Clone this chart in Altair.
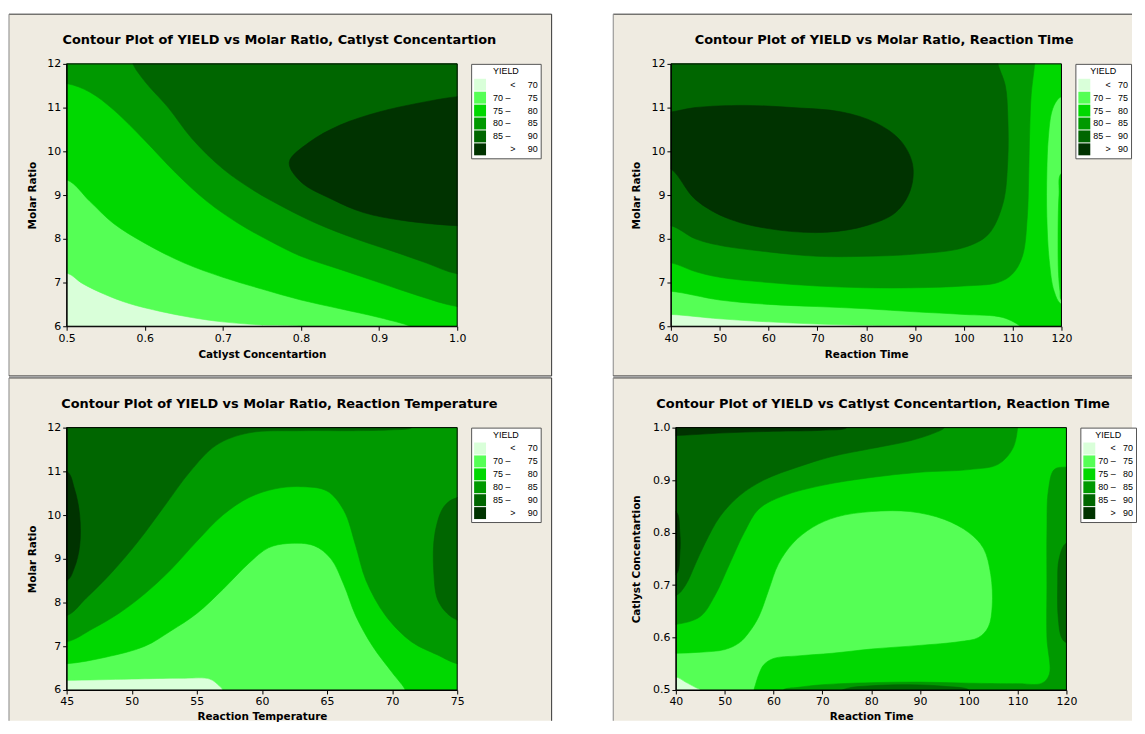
import json
import altair as alt
import pandas as pd

BANDS = ["< 70", "70 – 75", "75 – 80", "80 – 85", "85 – 90", "> 90"]
COLORS = ["#d9ffd9", "#55ff55", "#00d800", "#009900", "#006600", "#003300"]
BEIGE = "#efebe1"

# ---------------- Panel 1: Molar Ratio vs Catlyst Concentartion ----------------
P1_TITLE = "Contour Plot of YIELD vs Molar Ratio, Catlyst Concentartion"
P1_XTITLE = "Catlyst Concentartion"
P1_YTITLE = "Molar Ratio"
P1_XDOM = [0.5, 1.0]
P1_YDOM = [6, 12]
P1_XTICKS = [0.5, 0.6, 0.7, 0.8, 0.9, 1.0]
P1_YTICKS = [6, 7, 8, 9, 10, 11, 12]
P1_GE70 = [(0.45, 7.22), (0.5, 7.22), (0.52, 6.98), (0.55, 6.72), (0.58, 6.52), (0.62, 6.34),
           (0.66, 6.2), (0.7, 6.1), (0.75, 6.03), (0.8, 6.0), (0.82, 5.9), (1.05, 5.9),
           (1.05, 12.1), (0.45, 12.1)]
P1_GE75 = [(0.45, 9.35), (0.5, 9.35), (0.53, 8.85), (0.56, 8.35), (0.6, 7.9), (0.65, 7.45),
           (0.7, 7.12), (0.75, 6.85), (0.8, 6.6), (0.85, 6.4), (0.9, 6.2), (0.94, 6.0),
           (0.95, 5.9), (1.05, 5.9), (1.05, 12.1), (0.45, 12.1)]
P1_GE80 = [(0.45, 11.55), (0.5, 11.55), (0.53, 11.35), (0.56, 10.95), (0.6, 10.25), (0.64, 9.5),
           (0.68, 8.85), (0.72, 8.35), (0.76, 7.95), (0.8, 7.6), (0.85, 7.3), (0.9, 7.0),
           (0.95, 6.7), (1.0, 6.45), (1.05, 6.4), (1.05, 12.1), (0.45, 12.1)]
P1_GE85 = [(0.585, 12.1), (0.585, 12.0), (0.6, 11.6), (0.63, 11.0), (0.66, 10.3), (0.7, 9.6),
           (0.74, 9.1), (0.78, 8.7), (0.82, 8.35), (0.87, 8.0), (0.92, 7.7), (0.96, 7.45),
           (1.0, 7.2), (1.05, 7.2), (1.05, 12.1)]
P1_GE90 = [(1.05, 11.3), (1.0, 11.25), (0.95, 11.1), (0.9, 10.9), (0.85, 10.6), (0.81, 10.2),
           (0.785, 9.75), (0.8, 9.3), (0.84, 8.9), (0.88, 8.6), (0.93, 8.42), (1.0, 8.3),
           (1.05, 8.3)]

# ---------------- Panel 2: Molar Ratio vs Reaction Time ----------------
P2_TITLE = "Contour Plot of YIELD vs Molar Ratio, Reaction Time"
P2_XTITLE = "Reaction Time"
P2_YTITLE = "Molar Ratio"
P2_XDOM = [40, 120]
P2_YDOM = [6, 12]
P2_XTICKS = [40, 50, 60, 70, 80, 90, 100, 110, 120]
P2_YTICKS = [6, 7, 8, 9, 10, 11, 12]
P2_GE70 = [(35, 6.27), (40, 6.27), (50, 6.17), (60, 6.1), (70, 6.05), (80, 6.02), (90, 6.0),
           (95, 5.9), (125, 5.9), (125, 12.1), (35, 12.1)]
P2_GE75_A = [(35, 6.8), (40, 6.8), (50, 6.6), (60, 6.5), (70, 6.45), (80, 6.4), (90, 6.33),
             (100, 6.27), (108, 6.2), (111.5, 6.0), (112, 5.9), (125, 5.9), (125, 6.45),
             (120, 6.5), (118.5, 6.8), (117.5, 7.5), (117, 8.5), (117, 9.5), (117.3, 10.3),
             (118, 10.9), (119, 11.15), (120, 11.25), (125, 11.3), (125, 12.1), (35, 12.1)]
P2_GE75_B = [(125, 9.5), (120, 9.5), (119.5, 9.0), (119.3, 8.0), (119.4, 7.2), (119.7, 6.8),
             (120, 6.6), (125, 6.6)]
P2_GE80 = [(35, 7.45), (40, 7.45), (45, 7.25), (50, 7.12), (60, 7.0), (70, 6.92), (80, 6.88),
           (90, 6.88), (100, 6.92), (107, 7.0), (110, 7.2), (112, 7.6), (113, 8.5),
           (113.3, 9.5), (113.5, 10.5), (113.8, 11.3), (114.5, 12.0), (114.5, 12.1), (35, 12.1)]
P2_GE85 = [(35, 8.3), (40, 8.3), (45, 8.0), (50, 7.85), (60, 7.7), (70, 7.6), (80, 7.6),
           (90, 7.65), (100, 7.8), (105, 8.1), (108, 8.8), (109, 9.8), (109, 10.8),
           (108.5, 11.5), (107, 12.0), (107, 12.1), (35, 12.1)]
P2_GE90 = [(35, 10.85), (40, 10.9), (45, 11.0), (55, 11.05), (65, 11.0), (75, 10.9),
           (82, 10.65), (87, 10.25), (89.5, 9.7), (89, 9.1), (86, 8.6), (80, 8.3), (72, 8.15),
           (62, 8.2), (52, 8.45), (45, 8.9), (40, 9.6), (35, 9.8)]

# ---------------- Panel 3: Molar Ratio vs Reaction Temperature ----------------
P3_TITLE = "Contour Plot of YIELD vs Molar Ratio, Reaction Temperature"
P3_XTITLE = "Reaction Temperature"
P3_YTITLE = "Molar Ratio"
P3_XDOM = [45, 75]
P3_YDOM = [6, 12]
P3_XTICKS = [45, 50, 55, 60, 65, 70, 75]
P3_YTICKS = [6, 7, 8, 9, 10, 11, 12]
P3_GE70 = [(42, 6.22), (45, 6.22), (50, 6.25), (54, 6.27), (56, 6.25), (56.7, 6.1), (57, 6.0),
           (57, 5.9), (78, 5.9), (78, 12.1), (42, 12.1)]
P3_GE75 = [(42, 6.6), (45, 6.6), (48, 6.75), (51, 7.0), (53, 7.35), (55, 7.75), (57, 8.3),
           (59, 8.9), (60.5, 9.25), (62, 9.35), (64, 9.3), (65.3, 9.0), (66.3, 8.4),
           (67.2, 7.7), (68.5, 7.0), (70, 6.4), (71, 6.0), (71, 5.9), (78, 5.9), (78, 12.1),
           (42, 12.1)]
P3_GE80 = [(42, 7.1), (45, 7.1), (47, 7.4), (49, 7.75), (51, 8.2), (53, 8.75), (55, 9.4),
           (57, 10.0), (59, 10.4), (61, 10.6), (63, 10.65), (65, 10.55), (66.3, 10.1),
           (67.2, 9.3), (68, 8.5), (69.5, 7.7), (71.5, 7.1), (73.5, 6.8), (75, 6.6), (78, 6.5),
           (78, 12.1), (42, 12.1)]
P3_GE85_A = [(42, 7.7), (45, 7.7), (46.5, 8.1), (48.5, 8.7), (50.5, 9.4), (52.5, 10.2),
             (54.5, 11.0), (56.5, 11.6), (59, 11.88), (63, 11.93), (67, 11.93), (70, 11.95),
             (71.5, 12.0), (71.5, 12.1), (42, 12.1)]
P3_GE85_B = [(78, 10.4), (75, 10.4), (74, 10.2), (73.3, 9.6), (73.2, 8.7), (73.6, 8.0),
             (75, 7.6), (78, 7.6)]
P3_GE90 = [(42, 11.0), (45, 11.0), (45.6, 10.6), (46, 10.0), (46, 9.3), (45.6, 8.8), (45, 8.5),
           (42, 8.5)]

# ---------------- Panel 4: Catlyst Concentartion vs Reaction Time ----------------
P4_TITLE = "Contour Plot of YIELD vs Catlyst Concentartion, Reaction Time"
P4_XTITLE = "Reaction Time"
P4_YTITLE = "Catlyst Concentartion"
P4_XDOM = [40, 120]
P4_YDOM = [0.5, 1.0]
P4_XTICKS = [40, 50, 60, 70, 80, 90, 100, 110, 120]
P4_YTICKS = [0.5, 0.6, 0.7, 0.8, 0.9, 1.0]
P4_GE70 = [(35, 0.525), (40, 0.525), (42, 0.515), (44, 0.505), (45, 0.5), (45, 0.49),
           (125, 0.49), (125, 1.01), (35, 1.01)]
P4_GE75 = [(35, 0.57), (40, 0.57), (45, 0.572), (50, 0.577), (53, 0.59), (55, 0.61),
           (57, 0.64), (59, 0.69), (61, 0.74), (64, 0.78), (68, 0.81), (73, 0.83), (80, 0.84),
           (88, 0.84), (95, 0.825), (100, 0.8), (103, 0.77), (104.5, 0.72), (104.8, 0.66),
           (104, 0.62), (102, 0.6), (98, 0.592), (90, 0.585), (80, 0.578), (72, 0.57),
           (65, 0.565), (60, 0.56), (58, 0.548), (57, 0.53), (56.3, 0.51), (56, 0.5),
           (56, 0.49), (125, 0.49), (125, 1.01), (35, 1.01)]
P4_GE80_A = [(35, 0.625), (40, 0.625), (45, 0.64), (48, 0.68), (51, 0.74), (54, 0.8),
             (57, 0.845), (62, 0.87), (70, 0.89), (80, 0.905), (90, 0.915), (100, 0.92),
             (106, 0.93), (109, 0.96), (110, 1.0), (110, 1.01), (35, 1.01)]
P4_GE80_B = [(125, 0.925), (120, 0.925), (117.5, 0.92), (116.3, 0.88), (116, 0.8), (116, 0.7),
             (116, 0.6), (116.5, 0.53), (115, 0.513), (110, 0.512), (100, 0.513), (90, 0.515),
             (80, 0.514), (70, 0.51), (65, 0.505), (62, 0.5), (62, 0.49), (125, 0.49)]
P4_GE85_A = [(35, 0.68), (40, 0.68), (42, 0.7), (44, 0.74), (46, 0.78), (49, 0.83), (53, 0.87),
             (58, 0.9), (65, 0.925), (72, 0.945), (80, 0.96), (88, 0.975), (93, 0.99),
             (95, 1.0), (95, 1.01), (35, 1.01)]
P4_GE85_B = [(125, 0.78), (120, 0.78), (118.5, 0.75), (118.2, 0.7), (118.3, 0.64), (119, 0.6),
             (120, 0.59), (125, 0.59)]
P4_GE85_C = [(72, 0.49), (75, 0.503), (80, 0.508), (88, 0.51), (95, 0.507), (100, 0.5),
             (100, 0.49)]
P4_GE90_A = [(35, 1.01), (35, 0.985), (40, 0.985), (50, 0.99), (60, 0.993), (70, 0.995),
             (75, 1.0), (75, 1.01)]
P4_GE90_B = [(35, 0.84), (40, 0.84), (40.8, 0.8), (40.8, 0.76), (40, 0.72), (35, 0.72)]

W, H = 393, 264
NB = "\u00a0"


def level_df(polys):
    rows = []
    for pid, poly in enumerate(polys):
        for i, (x, y) in enumerate(poly):
            rows.append({"pid": pid, "i": i, "x": x, "y": y})
    return pd.DataFrame(rows)


def label_expr(gap_mid, gap_lt):
    parts = []
    for b in BANDS:
        if b[0] in "<>":
            disp = b[0] + NB * gap_lt + b[2:]
        else:
            a, c = b.split(" – ")
            disp = a + NB + "–" + NB * gap_mid + c
        parts.append((b, disp))
    expr = ""
    for b, d in parts[:-1]:
        expr += "datum.label === %s ? %s : " % (json.dumps(b, ensure_ascii=False),
                                                json.dumps(d, ensure_ascii=False))
    expr += json.dumps(parts[-1][1], ensure_ascii=False)
    return expr


def axis(title, values, fmt, pad):
    return alt.Axis(title=title, values=values, format=fmt, grid=False, zindex=1, tickSize=4,
                    labelPadding=2, titlePadding=pad, labelFontSize=11, labelFlush=False,
                    titleFontSize=10.5, titleFontWeight="bold", domainColor="black",
                    tickColor="black", labelColor="black", titleColor="black")


def panel(title, xtitle, ytitle, xdom, ydom, xticks, yticks, xfmt, yfmt, levels,
          frame, borders, title_dx, xpad, ypad, leg):
    fx1, fx2, fy1, fy2 = frame
    X = alt.X("x:Q", scale=alt.Scale(domain=xdom, nice=False, zero=False),
              axis=axis(xtitle, xticks, xfmt, xpad))
    Y = alt.Y("y:Q", scale=alt.Scale(domain=ydom, nice=False, zero=False),
              axis=axis(ytitle, yticks, yfmt, ypad))
    one = pd.DataFrame({"k": [0]})
    layers = [alt.Chart(one).mark_rect(fill=BEIGE, strokeWidth=0).encode(
        x=alt.value(fx1), x2=alt.value(fx2), y=alt.value(fy1), y2=alt.value(fy2))]
    for side, color in borders:
        if side == "top":
            enc = dict(x=alt.value(fx1), x2=alt.value(fx2), y=alt.value(fy1))
        elif side == "bottom":
            enc = dict(x=alt.value(fx1), x2=alt.value(fx2), y=alt.value(fy2))
        elif side == "left":
            enc = dict(x=alt.value(fx1), y=alt.value(fy1), y2=alt.value(fy2))
        else:
            enc = dict(x=alt.value(fx2), y=alt.value(fy1), y2=alt.value(fy2))
        layers.append(alt.Chart(one).mark_rule(color=color, strokeWidth=1).encode(**enc))
    layers.append(alt.Chart(one).mark_text(
        text=title, fontSize=13, fontWeight="bold", color="black", align="center",
        baseline="middle").encode(x=alt.value(W / 2 + title_dx), y=alt.value(-23.5)))
    base = [[(xdom[0], ydom[0]), (xdom[1], ydom[0]), (xdom[1], ydom[1]), (xdom[0], ydom[1])]]
    all_levels = [base] + levels
    for k, polys in enumerate(all_levels):
        layers.append(
            alt.Chart(level_df(polys)).mark_line(
                fill=COLORS[k], stroke=COLORS[k], strokeWidth=0.6, clip=True,
                interpolate="catmull-rom" if k > 0 else "linear"
            ).encode(x=X, y=Y, order="i:Q", detail="pid:N")
        )
    border_df = pd.DataFrame({"x": [xdom[0]], "x2": [xdom[1]], "y": [ydom[0]], "y2": [ydom[1]]})
    layers.append(alt.Chart(border_df).mark_rect(fillOpacity=0, stroke="black", strokeWidth=1)
                  .encode(x=X, x2="x2:Q", y=Y, y2="y2:Q"))
    label_offset, gap_mid, gap_lt = leg
    legend = alt.Legend(title="YIELD", orient="none", legendX=W + 14, legendY=0,
                        titleFont="Liberation Sans", titleFontSize=9,
                        titleFontWeight="normal", titleAnchor="middle", titleColor="black",
                        titlePadding=3, labelFont="Liberation Sans", labelFontSize=9,
                        labelColor="black", labelAlign="right", labelOffset=label_offset,
                        labelExpr=label_expr(gap_mid, gap_lt),
                        symbolType="square", symbolSize=144, symbolStrokeWidth=0,
                        symbolOpacity=1, fillColor="white", strokeColor="#555",
                        padding=3, rowPadding=1)
    layers.append(alt.Chart(pd.DataFrame({"band": BANDS})).mark_square(opacity=0).encode(
        fill=alt.Fill("band:N", scale=alt.Scale(domain=BANDS, range=COLORS), legend=legend)))
    return alt.layer(*layers).properties(width=W, height=H)


LEG_WIDE = (52, 7, 5)
LEG_NARROW = (38, 3, 3)

p1 = panel(P1_TITLE, P1_XTITLE, P1_YTITLE, P1_XDOM, P1_YDOM, P1_XTICKS, P1_YTICKS, ".1f", "d",
           [[P1_GE70], [P1_GE75], [P1_GE80], [P1_GE85], [P1_GE90]],
           (-58, 488, -50, 314),
           [("top", "#333"), ("left", "#888"), ("right", "#333"), ("bottom", "#333")],
           17.5, 6.5, 9, LEG_WIDE)
p2 = panel(P2_TITLE, P2_XTITLE, P2_YTITLE, P2_XDOM, P2_YDOM, P2_XTICKS, P2_YTICKS, "d", "d",
           [[P2_GE70], [P2_GE75_A, P2_GE75_B], [P2_GE80], [P2_GE85], [P2_GE90]],
           (-58, 464, -50, 314),
           [("top", "#333"), ("left", "#888"), ("bottom", "#333")],
           18, 6.5, 10, LEG_NARROW)
p3 = panel(P3_TITLE, P3_XTITLE, P3_YTITLE, P3_XDOM, P3_YDOM, P3_XTICKS, P3_YTICKS, "d", "d",
           [[P3_GE70], [P3_GE75], [P3_GE80], [P3_GE85_A, P3_GE85_B], [P3_GE90]],
           (-58, 488, -50, 295),
           [("top", "#333"), ("left", "#888"), ("right", "#333")],
           17.5, 4.5, 9, LEG_WIDE)
p4 = panel(P4_TITLE, P4_XTITLE, P4_YTITLE, P4_XDOM, P4_YDOM, P4_XTICKS, P4_YTICKS, "d", ".1f",
           [[P4_GE70], [P4_GE75], [P4_GE80_A, P4_GE80_B], [P4_GE85_A, P4_GE85_B, P4_GE85_C],
            [P4_GE90_A, P4_GE90_B]],
           (-63, 459, -50, 295),
           [("top", "#333"), ("left", "#888")],
           12, 4.5, 11, LEG_NARROW)

row1 = alt.hconcat(p1, p2, spacing=60).resolve_scale(fill="independent")
row2 = alt.hconcat(p3, p4, spacing=60).resolve_scale(fill="independent")
chart = alt.vconcat(row1, row2, spacing=0).resolve_scale(fill="independent").properties(
    padding={"left": 0, "top": 3, "right": 0, "bottom": 0}
).configure(font="DejaVu Sans", background="white").configure_view(stroke=None)

chart.save("out.html", embed_options={"renderer": "svg", "actions": False})
